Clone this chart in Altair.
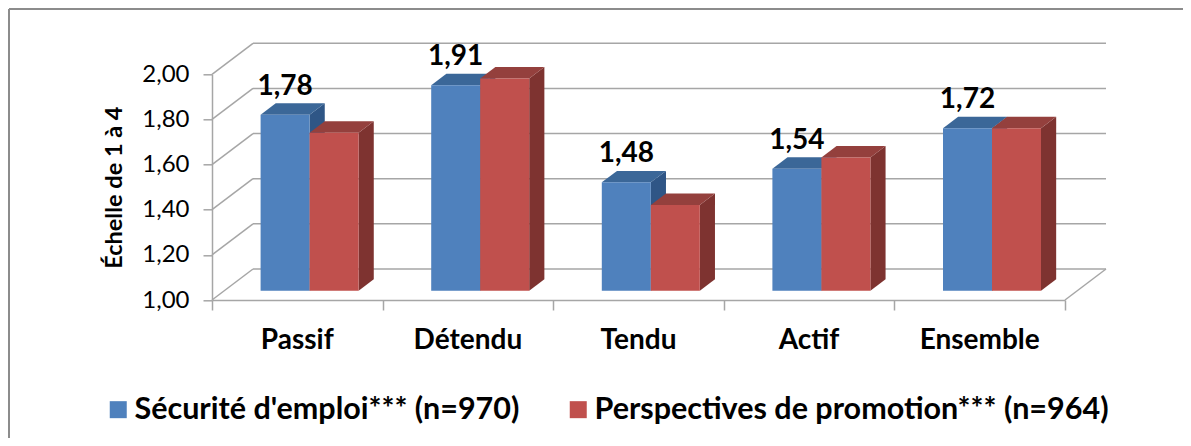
import altair as alt
import pandas as pd

# ---------------- data ----------------
categories = ["Passif", "Détendu", "Tendu", "Actif", "Ensemble"]
securite = [1.78, 1.91, 1.48, 1.54, 1.72]
promotion = [1.70, 1.94, 1.38, 1.59, 1.72]
series_names = ["Sécurité d'emploi*** (n=970)", "Perspectives de promotion*** (n=964)"]
y_ticks = [1.0, 1.2, 1.4, 1.6, 1.8, 2.0]
y_title = "Échelle de 1 à 4"

# ---------------- style ----------------
FONT = "Lato"
front_colors = ["#4F81BD", "#C0504D"]
top_colors = ["#3B6798", "#94403D"]
side_colors = ["#2F5686", "#7E3330"]
GRID = "#A6A6A6"

# pseudo-3D projection (in category units on x, value units on y)
DX = 41 / 170.6
DY = 31 / 225.7
BAR_W = 49 / 170.6
F_FRONT, F_BACK = 0.30, 0.67
fx, fy = F_FRONT * DX, F_FRONT * DY
ddx, ddy = (F_BACK - F_FRONT) * DX, (F_BACK - F_FRONT) * DY

front_rows, top_rows, side_rows, label_rows = [], [], [], []
for s, vals in enumerate([securite, promotion]):
    for i, (cat, v) in enumerate(zip(categories, vals)):
        x0 = i + 0.5 - BAR_W + s * BAR_W + fx
        x1 = x0 + BAR_W
        base = 1 + fy
        top = v + fy
        front_rows.append(dict(cat=cat, series=series_names[s], s=s, x0=x0, x1=x1, yb=base, yt=top))
        gid = f"{s}-{i}"
        for px, lo, hi in [(x0, top, top), (x0 + ddx, top, top + ddy),
                           (x1, top, top + ddy), (x1 + ddx, top + ddy, top + ddy)]:
            top_rows.append(dict(g=gid, s=s, px=px, lo=lo, hi=hi, fill=top_colors[s]))
        for px, lo, hi in [(x1, base, top), (x1 + ddx, base + ddy, top + ddy)]:
            side_rows.append(dict(g=gid, s=s, px=px, lo=lo, hi=hi, fill=side_colors[s]))
        if s == 0:
            label_rows.append(dict(x=x0 + BAR_W / 2, y=top, txt=f"{v:.2f}".replace(".", ",")))

front_df = pd.DataFrame(front_rows)
top_df = pd.DataFrame(top_rows)
side_df = pd.DataFrame(side_rows)
label_df = pd.DataFrame(label_rows)
cat_df = pd.DataFrame({"cat": categories, "x": [i + 0.5 for i in range(len(categories))], "y": [1.0] * len(categories)})

grid_df = pd.DataFrame({"v": y_ticks})
grid_df["xa"] = DX
grid_df["xb"] = len(categories) + DX
grid_df["yb"] = grid_df["v"] + DY
grid_df["x0"] = 0.0
grid_df["x1"] = DX
floor_df = pd.DataFrame({"xa": [float(len(categories))], "xb": [len(categories) + DX],
                         "ya": [y_ticks[0]], "yb": [y_ticks[0] + DY]})

xs = alt.Scale(domain=[0, len(categories)], nice=False, zero=False)
ys = alt.Scale(domain=[y_ticks[0], y_ticks[-1]], nice=False, zero=False)

XAX = alt.Axis(values=list(range(len(categories) + 1)), labels=False, title=None, grid=False,
               tickSize=10, tickColor=GRID, domainColor=GRID, tickWidth=1.5, domainWidth=1.5)
YAX = alt.Axis(values=y_ticks, format=".2f", labelExpr="replace(datum.label, '.', ',')",
               title=y_title, grid=False, tickSize=9, tickColor=GRID, domainColor=GRID,
               tickWidth=1.5, domainWidth=1.5,
               labelFont=FONT, labelFontSize=24, labelColor="#000000", labelPadding=14,
               titleFont=FONT, titleFontSize=23.5, titleFontWeight="bold", titleColor="#000000",
               titlePadding=15)

# back wall gridlines
back = alt.Chart(grid_df).mark_rule(color=GRID, strokeWidth=1.5).encode(
    x=alt.X("xa:Q", scale=xs, axis=XAX), x2="xb:Q",
    y=alt.Y("yb:Q", scale=ys, axis=YAX),
)
# left wall diagonals
side_wall = alt.Chart(grid_df).mark_rule(color=GRID, strokeWidth=1.5).encode(
    x=alt.X("x0:Q", scale=xs, axis=XAX), x2="x1:Q",
    y=alt.Y("v:Q", scale=ys, axis=YAX), y2="yb:Q",
)
floor_edge = alt.Chart(floor_df).mark_rule(color=GRID, strokeWidth=1.5).encode(
    x=alt.X("xa:Q", scale=xs, axis=XAX), x2="xb:Q",
    y=alt.Y("ya:Q", scale=ys, axis=YAX), y2="yb:Q",
)


def face_layer(df, s):
    return alt.Chart(df[df["s"] == s]).mark_area(strokeWidth=0, opacity=1).encode(
        x=alt.X("px:Q", scale=xs, axis=XAX),
        y=alt.Y("lo:Q", scale=ys, axis=YAX), y2="hi:Q",
        fill=alt.Fill("fill:N", scale=None),
        detail="g:N",
    )


fronts = alt.Chart(front_df).mark_bar(strokeWidth=0, opacity=1).encode(
    x=alt.X("x0:Q", scale=xs, axis=XAX),
    x2="x1:Q",
    y=alt.Y("yb:Q", scale=ys, axis=YAX),
    y2="yt:Q",
    color=alt.Color("series:N", scale=alt.Scale(domain=series_names, range=front_colors),
                    legend=alt.Legend(
                        orient="none", legendX=-109, legendY=320, direction="horizontal",
                        title=None, symbolType="square", symbolSize=289, symbolStrokeWidth=0,
                        labelFont=FONT, labelFontSize=30.5, labelFontWeight="bold",
                        labelColor="#000000", labelLimit=800, labelOffset=1,
                        columnPadding=43, padding=0)),
)

value_labels = alt.Chart(label_df).mark_text(
    font=FONT, fontSize=28, fontWeight="bold", color="#000000", baseline="alphabetic", dy=-20
).encode(
    x=alt.X("x:Q", scale=xs, axis=XAX), y=alt.Y("y:Q", scale=ys, axis=YAX), text="txt:N"
)

cat_labels = alt.Chart(cat_df).mark_text(
    font=FONT, fontSize=28, fontWeight="bold", color="#000000", baseline="alphabetic", dy=49
).encode(
    x=alt.X("x:Q", scale=xs, axis=XAX), y=alt.Y("y:Q", scale=ys, axis=YAX), text="cat:N"
)

one = pd.DataFrame({"k": [0]})
frame_left = alt.Chart(one).mark_rule(color="#8C8C8C", strokeWidth=2).encode(
    x=alt.value(-203), y=alt.value(-65.3), y2=alt.value(364))
frame_top = alt.Chart(one).mark_rule(color="#8C8C8C", strokeWidth=2).encode(
    x=alt.value(-203), x2=alt.value(971), y=alt.value(-65.3))

chart = alt.layer(
    back, side_wall, floor_edge,
    face_layer(side_df, 0), face_layer(top_df, 0),
    face_layer(side_df, 1), face_layer(top_df, 1),
    fronts, value_labels, cat_labels, frame_left, frame_top,
).properties(
    width=853, height=225.7,
    padding={"left": 204, "top": 66.3, "right": 118, "bottom": 138},
    autosize=alt.AutoSizeParams(type="none"),
    background="#FFFFFF",
).configure_view(stroke=None)

chart.save("out.html", embed_options={"renderer": "svg", "actions": False})
